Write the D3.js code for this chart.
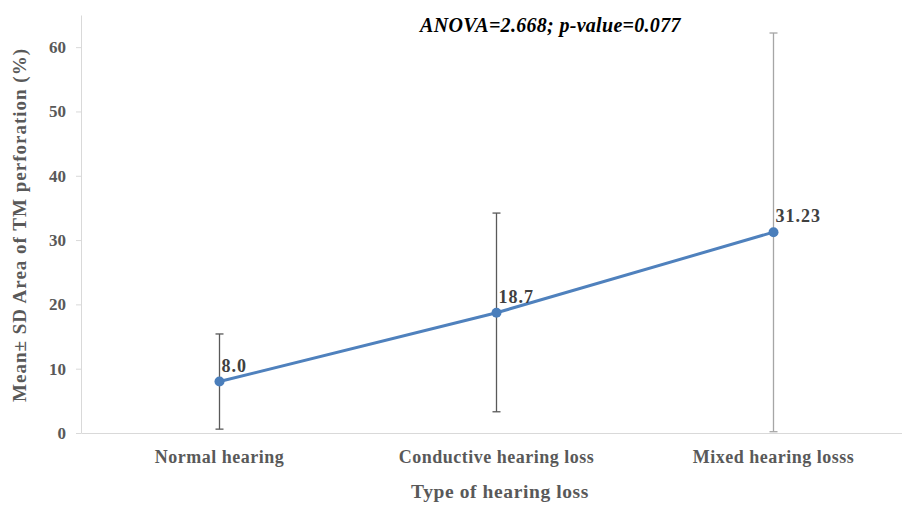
<!DOCTYPE html>
<html>
<head>
<meta charset="utf-8">
<script src="https://cdn.jsdelivr.net/npm/d3@7"></script>
<style>
  body { margin: 0; background: #fff; }
  text { font-family: "Liberation Serif", "Times New Roman", serif; }
</style>
</head>
<body>
<div id="chart"></div>
<script>
// data
const categories = ["Normal hearing", "Conductive hearing loss", "Mixed hearing losss"];
const means = [8.0, 18.7, 31.23];
const meanLabels = ["8.0", "18.7", "31.23"];
const sdLow = [0.6, 3.3, 0.2];
const sdHigh = [15.4, 34.2, 62.2];
const yTicks = [0, 10, 20, 30, 40, 50, 60];

// set variables
const W = 902, H = 506;
const margin = {top: 15, right: -10, bottom: 73, left: 81};
const width = W - margin.left - margin.right;
const height = H - margin.top - margin.bottom;

let x = d3.scaleBand().domain(categories).range([0, width]);
let y = d3.scaleLinear().domain([0, 65]).range([height, 0]);
let barColor = d3.scaleOrdinal().domain(categories).range(["#595959", "#595959", "#a6a6a6"]);

let svg = d3.select("#chart")
  .append("svg")
  .attr("width", W)
  .attr("height", H)
  .append("g")
  .attr("transform", `translate(${margin.left}, ${margin.top})`);

// y axis
let yAxis = svg.append("g")
  .call(d3.axisLeft(y).tickValues(yTicks).tickSize(5).tickPadding(10).tickSizeOuter(0));
yAxis.select(".domain").attr("stroke", "#d9d9d9");
yAxis.selectAll(".tick line").attr("stroke", "#d9d9d9");
yAxis.selectAll("text")
  .attr("fill", "#595959")
  .style("font-size", "17px")
  .style("font-weight", "bold")
  .style("font-family", "Liberation Serif");

// x axis
let xAxis = svg.append("g")
  .attr("transform", `translate(0,${height})`)
  .call(d3.axisBottom(x).tickSize(0).tickPadding(17).tickSizeOuter(0));
xAxis.select(".domain").attr("stroke", "#d9d9d9");
xAxis.selectAll("text")
  .attr("fill", "#595959")
  .style("font-size", "18px")
  .style("letter-spacing", "0.5px")
  .style("font-weight", "bold")
  .style("font-family", "Liberation Serif");

let cx = d => x(d) + x.bandwidth() / 2;

// error bars
let bars = svg.selectAll(".err")
  .data(categories)
  .enter()
  .append("g")
  .attr("class", "err")
  .attr("stroke", d => barColor(d))
  .attr("stroke-width", 1.3);
bars.append("line")
  .attr("x1", cx).attr("x2", cx)
  .attr("y1", (d, i) => y(sdLow[i]))
  .attr("y2", (d, i) => y(sdHigh[i]));
bars.append("line")
  .attr("x1", d => cx(d) - 4).attr("x2", d => cx(d) + 4)
  .attr("y1", (d, i) => y(sdLow[i]))
  .attr("y2", (d, i) => y(sdLow[i]));
bars.append("line")
  .attr("x1", d => cx(d) - 4).attr("x2", d => cx(d) + 4)
  .attr("y1", (d, i) => y(sdHigh[i]))
  .attr("y2", (d, i) => y(sdHigh[i]));

// mean line
let line = d3.line()
  .x((d, i) => cx(categories[i]))
  .y(d => y(d));
svg.append("path")
  .datum(means)
  .attr("fill", "none")
  .attr("stroke", "#4f81bd")
  .attr("stroke-width", 3)
  .attr("d", line);

svg.selectAll(".pt")
  .data(means)
  .enter()
  .append("circle")
  .attr("cx", (d, i) => cx(categories[i]))
  .attr("cy", d => y(d))
  .attr("r", 5)
  .attr("fill", "#4a7ebb");

// value labels
svg.selectAll(".lbl")
  .data(means)
  .enter()
  .append("text")
  .attr("x", (d, i) => cx(categories[i]) + 2)
  .attr("y", d => y(d) - 10)
  .attr("fill", "#404040")
  .style("font-size", "18px")
  .style("letter-spacing", "1px")
  .style("font-weight", "bold")
  .text((d, i) => meanLabels[i]);

// ANOVA note
svg.append("text")
  .attr("x", 339)
  .attr("y", 17)
  .attr("fill", "#000")
  .style("font-size", "20px")
  .style("letter-spacing", "0.3px")
  .style("font-weight", "bold")
  .style("font-style", "italic")
  .text("ANOVA=2.668; p-value=0.077");

// axis titles
svg.append("text")
  .attr("transform", "rotate(-90)")
  .attr("x", -(225 - margin.top))
  .attr("y", -81 + 26)
  .attr("text-anchor", "middle")
  .attr("fill", "#595959")
  .style("font-size", "19px")
  .style("letter-spacing", "1px")
  .style("font-weight", "bold")
  .text("Mean\u00b1 SD Area of TM perforation (%)");

svg.append("text")
  .attr("x", 500 - margin.left)
  .attr("y", height + 65)
  .attr("text-anchor", "middle")
  .attr("fill", "#595959")
  .style("font-size", "19.5px")
  .style("letter-spacing", "0.6px")
  .style("font-weight", "bold")
  .text("Type of hearing loss");
</script>
</body>
</html>
